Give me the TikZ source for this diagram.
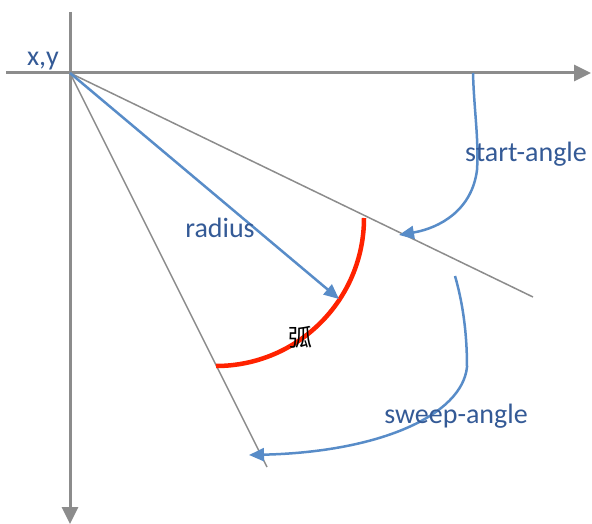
\documentclass[tikz,border=0pt]{standalone}
\usepackage{fontspec}
\setmainfont{Carlito}
\newfontfamily\cjk{Noto Sans CJK SC}
\usetikzlibrary{arrows.meta}
\definecolor{axisgray}{RGB}{140,140,140}
\definecolor{lineblue}{RGB}{88,140,200}
\definecolor{txtblue}{RGB}{52,90,150}
\definecolor{arcred}{RGB}{255,34,0}
\tikzset{
  axis/.style={draw=axisgray,line width=3pt,-{Triangle[length=17pt,width=16pt]}},
  ray/.style={draw=axisgray,line width=1.5pt},
  bluearrow/.style={draw=lineblue,line width=2.5pt,-{Triangle[length=15pt,width=13pt]}},
  lbl/.style={text=txtblue,font=\fontsize{28}{30}\selectfont,inner sep=0pt},
}
\begin{document}
\begin{tikzpicture}[x=1pt,y=-1pt]
\useasboundingbox (0,0) rectangle (592,524);
\coordinate (O) at (70,73);
\coordinate (xs) at (6,73);
\coordinate (xe) at (591,73);
\coordinate (ys) at (70,12);
\coordinate (ye) at (70,524);
\coordinate (r1) at (533,297);
\coordinate (r2) at (267,467);
\coordinate (rtip) at (339,299);
\coordinate (s1) at (473,73);
\coordinate (s2) at (477,170);
\coordinate (stip) at (399,235);
\coordinate (w1) at (455,276);
\coordinate (w2) at (467,367);
\coordinate (wtip) at (249,455);
\coordinate (arcA) at (364,218);
% axes
\draw[axis] (xs) -- (xe);
\draw[axis] (ys) -- (ye);
% rays
\draw[ray] (O) -- (r1);
\draw[ray] (O) -- (r2);
% arc
\draw[arcred,line width=4.5pt] (arcA) arc[start angle=0,end angle=90,radius=148];
% radius arrow
\draw[bluearrow] (O) -- (rtip);
% start-angle arrow
\draw[bluearrow] (s1) .. controls (474,110) and (479,140) .. (s2) .. controls (472,210) and (440,228) .. (stip);
% sweep-angle arrow
\draw[bluearrow] (w1) .. controls (462,300) and (467,330) .. (w2) .. controls (462,415) and (380,452) .. (wtip);
% labels
\node[lbl] (lxy) at (43,61) {x,y};
\node[lbl] (lstart) at (526,154) {start-angle};
\node[lbl] (lradius) at (220,228) {radius};
\node[lbl] (lsweep) at (456,416) {sweep-angle};
\node[inner sep=0pt,font=\cjk\fontsize{24}{26}\selectfont] (larc) at (300,337) {弧};
\end{tikzpicture}
\end{document}
